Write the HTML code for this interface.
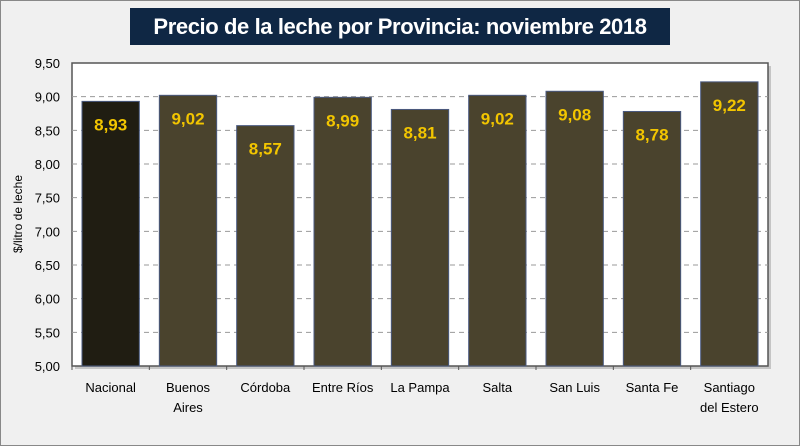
<!DOCTYPE html>
<html><head><meta charset="utf-8"><style>
body{margin:0;width:800px;height:446px;background:#f0f0f0;overflow:hidden;font-family:"Liberation Sans",sans-serif}
#frame{position:absolute;left:0;top:0;width:798px;height:444px;border:1px solid #888}
#title{position:absolute;left:130px;top:8px;width:540px;height:37px;background:#0f2744;color:#fff;font-weight:bold;font-size:22px;letter-spacing:-0.4px;white-space:nowrap;line-height:37px;text-align:center}
</style></head><body>
<div id="frame"></div>
<div id="title">Precio de la leche por Provincia: noviembre 2018</div>
<svg id="c" width="800" height="446" style="position:absolute;left:0;top:0"></svg>
<script>
const categories=["Nacional","Buenos Aires","Córdoba","Entre Ríos","La Pampa","Salta","San Luis","Santa Fe","Santiago del Estero"];
const values=[8.93,9.02,8.57,8.99,8.81,9.02,9.08,8.78,9.22];
const labels=["8,93","9,02","8,57","8,99","8,81","9,02","9,08","8,78","9,22"];
const ticks=[5,5.5,6,6.5,7,7.5,8,8.5,9,9.5];
const tickLabels=["5,00","5,50","6,00","6,50","7,00","7,50","8,00","8,50","9,00","9,50"];
const svg=document.getElementById('c');const NS='http://www.w3.org/2000/svg';
const L=72,R=768,T=63,B=366,ymin=5,ymax=9.5;
const y=v=>B-(v-ymin)/(ymax-ymin)*(B-T);
const bw=(R-L)/categories.length;
const x=i=>L+i*bw;
function mk(t,a,p){const e=document.createElementNS(NS,t);for(const k in a)e.setAttribute(k,a[k]);(p||svg).appendChild(e);return e;}
let sh=mk('rect',{x:L+3,y:T+3,width:R-L,height:B-T,fill:'#999',opacity:0.5});


let pa=mk('rect',{x:L,y:T,width:R-L,height:B-T,fill:'#fff',stroke:'#555','stroke-width':1.5});


ticks.forEach((t,i)=>{
  if(t>ymin&&t<ymax){let g=mk('line',{x1:L,x2:R,y1:y(t),y2:y(t),stroke:'#999','stroke-dasharray':'5,4'});
  
  }
  let tl=mk('text',{x:L-12,y:y(t)+5,'text-anchor':'end','font-size':13,fill:'#000'});tl.textContent=tickLabels[i];
  
  
});
let yt=mk('text',{transform:'translate(22,214) rotate(-90)','text-anchor':'middle','font-size':12,fill:'#000'});yt.textContent='$/litro de leche';


categories.forEach((c,i)=>{
  const bx=x(i)+10,w=bw-20;
  let r=mk('rect',{x:bx,y:y(values[i]),width:w,height:B-y(values[i]),fill:i==0?'#201d12':'#4a432d',stroke:'#4a5a80','stroke-width':1});
  
  
  let v=mk('text',{x:bx+w/2,y:y(values[i])+29,'text-anchor':'middle','font-size':17,'font-weight':'bold',fill:'#f2c500'});v.textContent=labels[i];
  
  
  let tk=mk('line',{x1:x(i),x2:x(i),y1:B,y2:B+4,stroke:'#555'});
  
  
  const parts=c=="Buenos Aires"?["Buenos","Aires"]:c=="Santiago del Estero"?["Santiago","del Estero"]:[c];
  parts.forEach((p,j)=>{let t=mk('text',{x:x(i)+bw/2,y:392+j*20,'text-anchor':'middle','font-size':13,fill:'#000'});t.textContent=p;
  
  });
});
</script>
</body></html>
